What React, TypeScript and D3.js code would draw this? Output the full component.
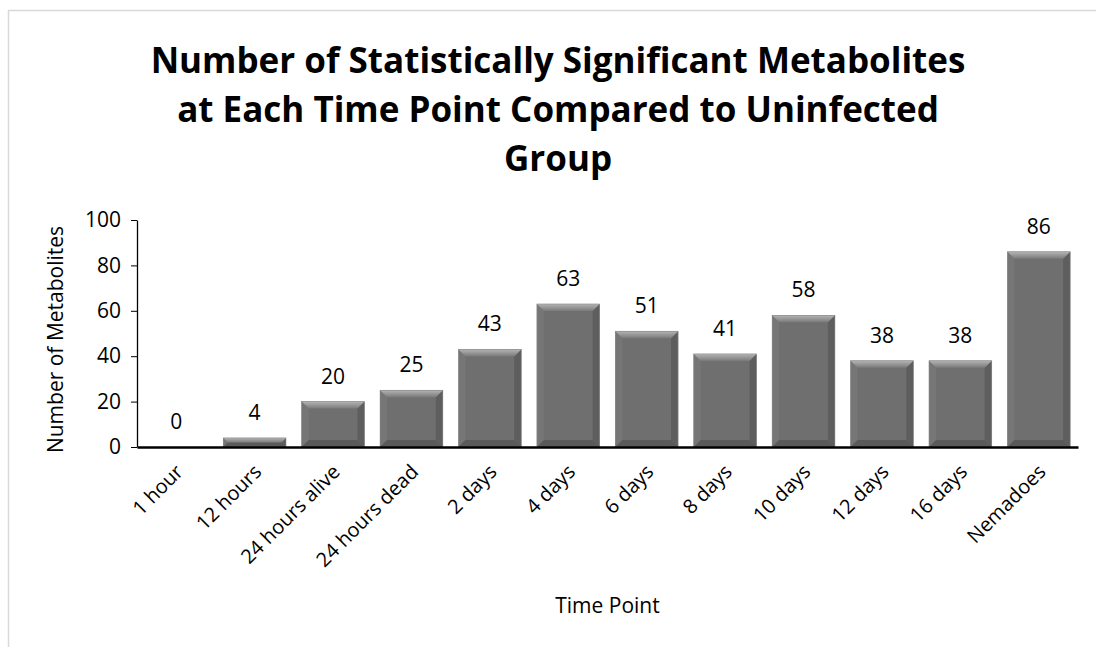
import React, { useEffect, useRef } from 'react';
import * as d3 from 'd3';

const categories = ['1 hour', '12 hours', '24 hours alive', '24 hours dead', '2 days', '4 days', '6 days', '8 days', '10 days', '12 days', '16 days', 'Nemadoes'];
const counts = [0, 4, 20, 25, 43, 63, 51, 41, 58, 38, 38, 86];
const yTicks = [0, 20, 40, 60, 80, 100];
const titleLines = ['Number of Statistically Significant Metabolites', 'at Each Time Point Compared to Uninfected', 'Group'];

const FONT = '"Open Sans", Lato, sans-serif';

const App: React.FC = () => {
  const svgRef = useRef<SVGSVGElement>(null);

  useEffect(() => {
    if (!svgRef.current) return;
    const W = 1096, H = 647;
    const svg = d3.select(svgRef.current).attr('width', W).attr('height', H).html('');

    // chart frame
    svg.append('rect')
      .attr('x', 8.5).attr('y', 10.5).attr('width', W + 10).attr('height', H + 10)
      .attr('fill', '#fff').attr('stroke', '#d9d9d9').attr('stroke-width', 1.5);

    const left = 137, right = 1078, top = 220, bottom = 447;

    const x = d3.scaleBand<string>().domain(categories).range([left, right]).paddingInner(0.2).paddingOuter(0.1);
    const y = d3.scaleLinear().domain([0, 100]).range([bottom, top]);

    // title
    svg.append('g').selectAll('text').data(titleLines).join('text')
      .attr('x', 558).attr('y', (_, i) => 73 + i * 49)
      .attr('text-anchor', 'middle')
      .style('font-family', FONT).style('font-size', '35px').style('font-weight', 'bold')
      .attr('fill', '#000')
      .text(d => d);

    // gradient defs
    const defs = svg.append('defs');
    const gTop = defs.append('linearGradient').attr('id', 'bevTop').attr('x1', 0).attr('y1', 0).attr('x2', 0).attr('y2', 1);
    gTop.append('stop').attr('offset', '0%').attr('stop-color', '#b4b4b4');
    gTop.append('stop').attr('offset', '100%').attr('stop-color', '#7a7a7a');

    const bw = x.bandwidth();
    const bev = 7;
    const rows = categories.map((c, i) => ({ c, v: counts[i] }));
    const bars = svg.append('g').selectAll('g').data(rows).join('g');

    bars.each(function (d) {
      if (d.v <= 0) return;
      const g = d3.select(this);
      const x0 = x(d.c)!, x1 = x0 + bw;
      const y0 = y(d.v), y1 = y(0);
      const b = Math.min(bev, (y1 - y0) / 2);
      g.append('rect').attr('x', x0).attr('y', y0).attr('width', bw).attr('height', y1 - y0).attr('fill', '#6f6f6f');
      // left side
      g.append('path').attr('d', `M${x0},${y0}L${x0 + b},${y0 + b}L${x0 + b},${y1 - b}L${x0},${y1}Z`).attr('fill', '#767676');
      // right side
      g.append('path').attr('d', `M${x1},${y0}L${x1 - b},${y0 + b}L${x1 - b},${y1 - b}L${x1},${y1}Z`).attr('fill', '#5e5e5e');
      // bottom
      g.append('path').attr('d', `M${x0},${y1}L${x0 + b},${y1 - b}L${x1 - b},${y1 - b}L${x1},${y1}Z`).attr('fill', '#5a5a5a');
      // top
      g.append('path').attr('d', `M${x0},${y0}L${x1},${y0}L${x1 - b},${y0 + b}L${x0 + b},${y0 + b}Z`).attr('fill', 'url(#bevTop)');
      g.append('rect').attr('x', x0).attr('y', y0).attr('width', bw).attr('height', y1 - y0)
        .attr('fill', 'none').attr('stroke', '#8a8a8a').attr('stroke-width', 0.6);
    });

    // data labels
    svg.append('g').selectAll('text').data(rows).join('text')
      .attr('x', d => x(d.c)! + bw / 2)
      .attr('y', d => y(d.v) - 18)
      .attr('text-anchor', 'middle')
      .style('font-family', FONT).style('font-size', '21px')
      .attr('fill', '#000')
      .text(d => d.v);

    // y axis
    const yAxis = svg.append('g').attr('transform', `translate(${left},0)`)
      .call(d3.axisLeft(y).tickValues(yTicks).tickSize(6).tickSizeOuter(0).tickPadding(10));
    yAxis.select('.domain').attr('stroke', '#000').attr('stroke-width', 1.3);
    yAxis.selectAll('.tick line').attr('stroke', '#000');
    yAxis.selectAll('.tick text').style('font-family', FONT).style('font-size', '21px').attr('fill', '#000');

    // x axis
    const xAxis = svg.append('g').attr('transform', `translate(0,${bottom})`)
      .call(d3.axisBottom(x).tickSize(0).tickSizeOuter(0));
    xAxis.select('.domain').attr('stroke', '#000').attr('stroke-width', 2.4);
    xAxis.selectAll<SVGTextElement, string>('.tick text')
      .style('font-family', FONT).style('font-size', '20px').attr('fill', '#000')
      .attr('text-anchor', 'end')
      .attr('dy', 0)
      .attr('transform', 'translate(6,24) rotate(-45)');

    // axis titles
    svg.append('text')
      .attr('transform', `translate(63,${(top + bottom) / 2 + 6}) rotate(-90)`)
      .attr('text-anchor', 'middle')
      .style('font-family', FONT).style('font-size', '21px').attr('fill', '#000')
      .text('Number of Metabolites');

    svg.append('text')
      .attr('x', (left + right) / 2).attr('y', 613)
      .attr('text-anchor', 'middle')
      .style('font-family', FONT).style('font-size', '21px').attr('fill', '#000')
      .text('Time Point');
  }, []);

  return <svg ref={svgRef} style={{ position: 'absolute', left: 0, top: 0 }}></svg>;
};

export default App;
